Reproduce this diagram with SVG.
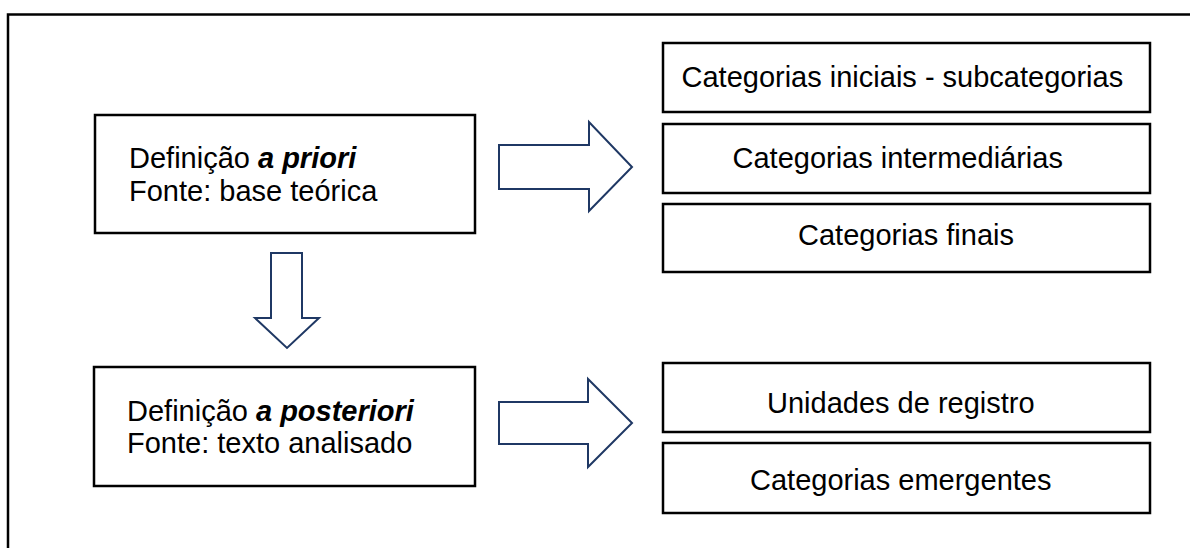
<svg xmlns="http://www.w3.org/2000/svg" width="1190" height="548" viewBox="0 0 1190 548">
<style>
.frame{fill:none;stroke:#000;stroke-width:2.5}
.box{fill:#fff;stroke:#000;stroke-width:2.5}
.arrow{fill:#fff;stroke:#1F3864;stroke-width:2;stroke-linejoin:miter}
.t{font-family:"Liberation Sans",Arial,sans-serif;font-size:29px;fill:#000}
.bi{font-weight:bold;font-style:italic}
</style>
<rect width="1190" height="548" fill="#fff"/>
<rect class="frame" x="8" y="14.5" width="1200" height="600"/>
<g id="node-priori">
<rect class="box" x="95" y="115" width="380" height="118"/>
<text class="t" x="129" y="168">Definição <tspan class="bi">a priori</tspan></text>
<text class="t" x="129" y="201">Fonte: base teórica</text>
</g>
<g id="node-posteriori">
<rect class="box" x="94" y="367" width="381" height="119"/>
<text class="t" x="127" y="421">Definição <tspan class="bi">a posteriori</tspan></text>
<text class="t" x="127" y="453">Fonte: texto analisado</text>
</g>
<g id="node-iniciais">
<rect class="box" x="663" y="43" width="487" height="69"/>
<text class="t" x="681.5" y="87">Categorias iniciais - subcategorias</text>
</g>
<g id="node-intermediarias">
<rect class="box" x="663" y="124" width="487" height="69"/>
<text class="t" x="732.5" y="168">Categorias intermediárias</text>
</g>
<g id="node-finais">
<rect class="box" x="663" y="204" width="487" height="68"/>
<text class="t" x="798" y="245">Categorias finais</text>
</g>
<g id="node-unidades">
<rect class="box" x="663" y="363" width="487" height="69"/>
<text class="t" x="767" y="413">Unidades de registro</text>
</g>
<g id="node-emergentes">
<rect class="box" x="663" y="443" width="487" height="70"/>
<text class="t" x="750" y="490">Categorias emergentes</text>
</g>
<g id="connectors">
<polygon class="arrow" points="499,145 589,145 589,122 632,167 589,211 589,189 499,189"/>
<polygon class="arrow" points="271,253 302,253 302,318 319,318 287,348 255,318 271,318"/>
<polygon class="arrow" points="499,402 588,402 588,379 632,423 588,467 588,444 499,444"/>
</g>
</svg>
